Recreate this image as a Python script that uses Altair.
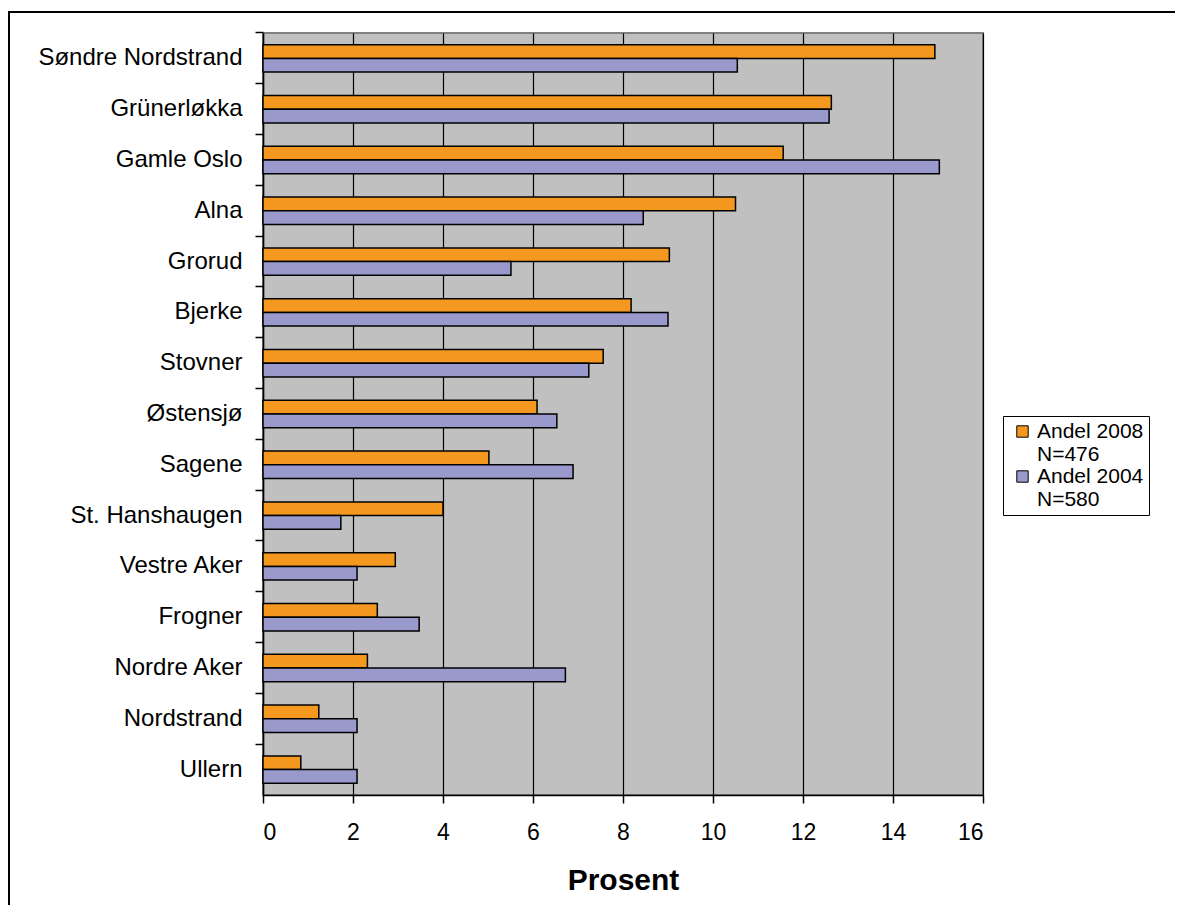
import altair as alt
import pandas as pd

districts = ["Søndre Nordstrand", "Grünerløkka", "Gamle Oslo", "Alna", "Grorud",
             "Bjerke", "Stovner", "Østensjø", "Sagene", "St. Hanshaugen",
             "Vestre Aker", "Frogner", "Nordre Aker", "Nordstrand", "Ullern"]
andel_2008 = [14.93, 12.63, 11.56, 10.50, 9.03, 8.18, 7.56, 6.09, 5.02, 4.00,
              2.94, 2.54, 2.32, 1.24, 0.84]
andel_2004 = [10.54, 12.58, 15.03, 8.45, 5.51, 9.00, 7.24, 6.53, 6.89, 1.73,
              2.09, 3.47, 6.72, 2.09, 2.09]
series = ["Andel 2008", "Andel 2004"]
series_n = ["N=476", "N=580"]
colors = ["#F5981F", "#9999CC"]
x_ticks = [0, 2, 4, 6, 8, 10, 12, 14, 16]

rows = []
for d, a, b in zip(districts, andel_2008, andel_2004):
    rows.append({"Bydel": d, "Serie": series[0], "Prosent": a})
    rows.append({"Bydel": d, "Serie": series[1], "Prosent": b})
df = pd.DataFrame(rows)

label_expr = (f"datum.value == '{series[0]}' ? ['{series[0]}', '{series_n[0]}'] "
              f": ['{series[1]}', '{series_n[1]}']")

FONT = "Liberation Sans"

bars = alt.Chart(df).mark_bar(stroke="black", strokeWidth=1.5).encode(
    y=alt.Y("Bydel:N", sort=districts,
            scale=alt.Scale(paddingInner=0.46, paddingOuter=0.23),
            axis=alt.Axis(title=None, bandPosition=-0.426, tickSize=8, labelPadding=13,
                          labelFontSize=24, labelFont=FONT, labelColor="black",
                          labelLimit=400,
                          domainColor="black", tickColor="black", domainWidth=1.5,
                          tickWidth=1.5, grid=False)),
    yOffset=alt.YOffset("Serie:N", sort=series,
                        scale=alt.Scale(paddingInner=0, paddingOuter=0)),
    x=alt.X("Prosent:Q", scale=alt.Scale(domain=[0, 16], nice=False),
            axis=alt.Axis(values=x_ticks, title="Prosent", titleFontSize=30,
                          titleFont=FONT, titleFontWeight="bold", titleColor="black",
                          titlePadding=21, tickSize=8, labelPadding=18,
                          labelFontSize=23, labelFont=FONT, labelColor="black",
                          domainColor="black", tickColor="black", domainWidth=1.5,
                          tickWidth=1.5, grid=True, gridColor="black",
                          gridWidth=1.2, gridOpacity=1)),
    color=alt.Color("Serie:N", sort=series,
                    scale=alt.Scale(domain=series, range=colors),
                    legend=alt.Legend(title=None,
                                      orient="none", legendX=740,
                                      legendY=383, strokeColor="black",
                                      fillColor="white", padding=5,
                                      symbolOffset=4,
                                      symbolType="square", symbolSize=130,
                                      symbolStrokeColor="black",
                                      symbolStrokeWidth=1, labelFontSize=21,
                                      labelFont=FONT, labelColor="black",
                                      labelOffset=4, labelLimit=400,
                                      labelExpr=label_expr, rowPadding=0)),
)

border = alt.Chart(pd.DataFrame({"k": [0]})).mark_rect(
    fillOpacity=0, stroke="black", strokeWidth=2
).encode(x=alt.value(-254), x2=alt.value(1100), y=alt.value(-21), y2=alt.value(1100))

chart = alt.layer(border, bars).properties(
    width=720, height=762,
    autosize=alt.AutoSizeParams(type="none"),
    padding={"left": 255, "top": 25, "right": 192, "bottom": 110},
).configure(
    font=FONT
).configure_view(
    fill="#C0C0C0", stroke="#808080", strokeWidth=2
)

chart.save("out.html", embed_options={"renderer": "svg", "actions": False})
